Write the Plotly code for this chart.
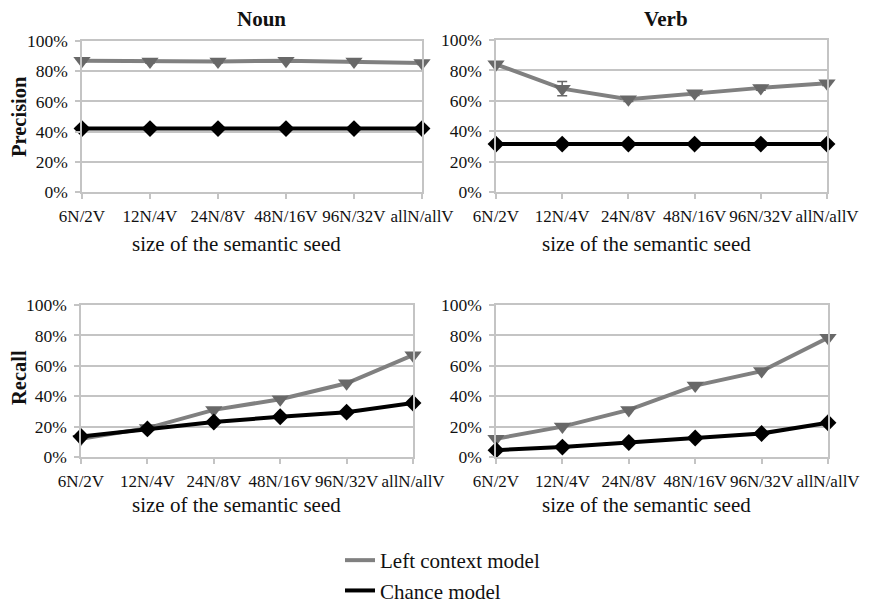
import plotly.graph_objects as go

# page body has an 8px margin, so the figure is drawn 8px in from the window corner
OFF = 8
W, H = 872 - OFF, 604 - OFF

categories = ["6N/2V", "12N/4V", "24N/8V", "48N/16V", "96N/32V", "allN/allV"]
y_tick_values = [0, 20, 40, 60, 80, 100]
y_tick_labels = ["0%", "20%", "40%", "60%", "80%", "100%"]

noun_prec_left = [87, 86.5, 86.5, 87, 86.5, 85.5]
noun_prec_left_err = [1, 1, 1, 1, 1, 1]
noun_prec_chance = [42, 42, 42, 42, 42, 42]

verb_prec_left = [84, 68, 61, 65, 68.5, 71.5]
verb_prec_left_err = [1.5, 4.7, 1.5, 1.5, 1.5, 1.5]
verb_prec_chance = [31.5, 31.5, 31.5, 31.5, 31.5, 31.5]

noun_rec_left = [12, 19, 31, 38, 48.5, 67]
noun_rec_chance = [13.5, 18.5, 23, 26.5, 29.5, 35.5]

verb_rec_left = [12, 20, 31, 47, 56.5, 78.5]
verb_rec_chance = [4.5, 6.5, 9.5, 12.5, 15.5, 22.5]

series_names = ["Left context model", "Chance model"]
titles = ["Noun", "Verb"]
row_titles = ["Precision", "Recall"]
x_title = "size of the semantic seed"

FONT = "Liberation Serif, Times New Roman, serif"
GREY = "#808080"
GREY_MK = "#686868"
BLACK = "#000000"
GRID = "#c4c4c4"
TXT = "#111111"


def px(x):
    return (x - OFF) / W


def py(y):
    return 1 - (y - OFF) / H


# panel pixel boxes in window coordinates: (x0, x1, ytop, ybottom)
boxes = [
    (82, 422, 41, 192),
    (496, 827, 40, 192),
    (81, 413, 305, 457),
    (496, 828, 305, 457),
]

panels = [
    (noun_prec_left, noun_prec_left_err, noun_prec_chance),
    (verb_prec_left, verb_prec_left_err, verb_prec_chance),
    (noun_rec_left, None, noun_rec_chance),
    (verb_rec_left, None, verb_rec_chance),
]

fig = go.Figure()
layout = dict(
    width=W, height=H,
    margin=dict(l=0, r=0, t=0, b=0, autoexpand=False),
    paper_bgcolor="white", plot_bgcolor="white",
    font=dict(family=FONT, color=TXT, size=17),
    showlegend=True,
)

for i, ((x0, x1, yt, yb), (left, err, chance)) in enumerate(zip(boxes, panels)):
    n = "" if i == 0 else str(i + 1)
    xa, ya = "x" + n, "y" + n
    fig.add_trace(go.Scatter(
        x=categories, y=left, mode="lines+markers", xaxis=xa, yaxis=ya,
        line=dict(color=GREY, width=4),
        marker=dict(symbol="triangle-down", size=15, color=GREY_MK),
        error_y=dict(type="data", array=err, color=GREY_MK, thickness=1.5, width=5, visible=err is not None),
        showlegend=False, cliponaxis=False, name=series_names[0]))
    fig.add_trace(go.Scatter(
        x=categories, y=chance, mode="lines+markers", xaxis=xa, yaxis=ya,
        line=dict(color=BLACK, width=4),
        marker=dict(symbol="diamond", size=13, color=BLACK),
        showlegend=False, cliponaxis=False, name=series_names[1]))
    layout["xaxis" + n] = dict(
        domain=[px(x0), px(x1)], anchor=ya, type="category",
        categoryorder="array", categoryarray=categories,
        range=[0, 5], showgrid=False, zeroline=False, automargin=False,
        showline=True, linecolor=GRID, linewidth=1.5, mirror=True,
        ticks="outside", ticklen=5, tickcolor=GRID, tickwidth=1.5, tickangle=0,
        tickfont=dict(family=FONT, size=17, color=TXT),
        ticklabelstandoff=3,
    )
    layout["yaxis" + n] = dict(
        domain=[py(yb), py(yt)], anchor=xa, automargin=False,
        range=[0, 100], tickvals=y_tick_values, ticktext=y_tick_labels,
        showgrid=True, gridcolor=GRID, gridwidth=1.5, zeroline=False,
        showline=True, linecolor=GRID, linewidth=1.5, mirror=True,
        ticks="outside", ticklen=5, tickcolor=GRID, tickwidth=1.5,
        tickfont=dict(family=FONT, size=17.5, color=TXT),
        ticklabelstandoff=4,
    )

# legend-only traces
fig.add_trace(go.Scatter(x=[None], y=[None], mode="lines", name=series_names[0],
                         line=dict(color=GREY, width=4), legendgroup="a"))
fig.add_trace(go.Scatter(x=[None], y=[None], mode="lines", name=series_names[1],
                         line=dict(color=BLACK, width=4), legendgroup="b"))

layout["legend"] = dict(
    x=px(340), y=py(540), xanchor="left", yanchor="top",
    font=dict(family=FONT, size=21, color=TXT),
    tracegroupgap=0, bgcolor="rgba(0,0,0,0)",
)

ann = []
for t, cx in zip(titles, [262, 666]):
    ann.append(dict(text="<b>" + t + "</b>", x=px(cx), y=py(19), xref="paper", yref="paper",
                    xanchor="center", yanchor="middle",
                    showarrow=False, font=dict(family=FONT, size=21, color=TXT)))
for t, cy in zip(row_titles, [117, 378]):
    ann.append(dict(text="<b>" + t + "</b>", x=px(19), y=py(cy), xref="paper", yref="paper",
                    xanchor="center", yanchor="middle", borderpad=0,
                    showarrow=False, textangle=-90, font=dict(family=FONT, size=20.5, color=TXT)))
for cx, cy in [(236, 244), (646, 244), (236, 505), (646, 505)]:
    ann.append(dict(text=x_title, x=px(cx), y=py(cy), xref="paper", yref="paper",
                    xanchor="center", yanchor="middle",
                    showarrow=False, font=dict(family=FONT, size=21, color=TXT)))
layout["annotations"] = ann

fig.update_layout(**layout)
fig.write_html("out.html")
